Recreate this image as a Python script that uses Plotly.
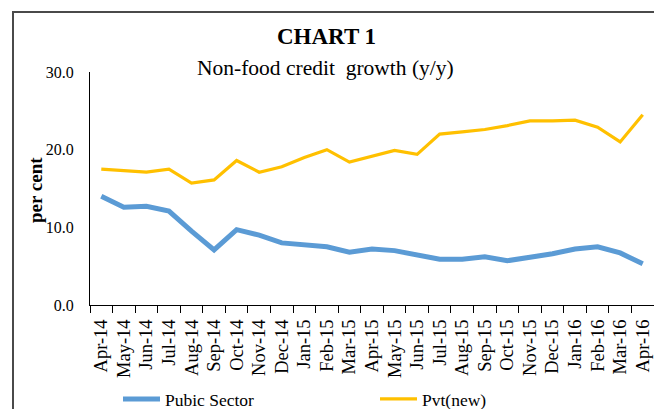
import plotly.graph_objects as go

# Monthly categories, Apr-14 .. Apr-16
months = ["Apr-14", "May-14", "Jun-14", "Jul-14", "Aug-14", "Sep-14", "Oct-14",
          "Nov-14", "Dec-14", "Jan-15", "Feb-15", "Mar-15", "Apr-15", "May-15",
          "Jun-15", "Jul-15", "Aug-15", "Sep-15", "Oct-15", "Nov-15", "Dec-15",
          "Jan-16", "Feb-16", "Mar-16", "Apr-16"]

# Non-food credit growth, per cent (y/y)
public_sector = [14.0, 12.6, 12.7, 12.1, 9.5, 7.1, 9.7, 9.0, 8.0, 7.8, 7.5, 6.8,
                 7.2, 7.0, 6.4, 5.9, 5.9, 6.2, 5.7, 6.1, 6.6, 7.2, 7.5, 6.7, 5.3]
pvt_new = [17.5, 17.3, 17.1, 17.5, 15.7, 16.1, 18.6, 17.1, 17.8, 19.0, 20.0, 18.4,
           19.1, 19.9, 19.4, 22.0, 22.3, 22.6, 23.1, 23.7, 23.7, 23.8, 22.9, 21.0, 24.5]

y_ticks = [0, 10, 20, 30]

SERIF = "Liberation Serif"
W, H = 654, 409
ML, MR, MT, MB = 90, 0, 72, 104
PW, PH = W - ML - MR, H - MT - MB


def px_x(x):
    return (x - ML) / PW


def px_y(y):
    return (H - MB - y) / PH


fig = go.Figure()
fig.add_trace(go.Scatter(x=months, y=public_sector, mode="lines", name="Pubic Sector",
                         line=dict(color="#5B9BD5", width=5)))
fig.add_trace(go.Scatter(x=months, y=pvt_new, mode="lines", name="Pvt(new)",
                         line=dict(color="#FFC000", width=3.2)))

fig.update_layout(
    width=W, height=H,
    margin=dict(l=ML, r=MR, t=MT, b=MB, pad=0, autoexpand=False),
    paper_bgcolor="white", plot_bgcolor="white",
    font=dict(family=SERIF, color="black"),
    showlegend=True,
    legend=dict(orientation="h", x=px_x(118), y=px_y(399), xanchor="left", yanchor="middle",
                font=dict(size=17.5, family=SERIF, color="black"),
                entrywidth=205, entrywidthmode="pixels",
                bgcolor="rgba(0,0,0,0)", itemwidth=37, tracegroupgap=0),
    xaxis=dict(type="category", range=[-0.5, len(months) - 0.5], automargin=False,
               showline=True, linecolor="black", linewidth=1,
               ticks="outside", tickson="boundaries", ticklen=7, tickcolor="black",
               tickangle=-90, ticklabelstandoff=6,
               tickfont=dict(size=18.5, family=SERIF),
               showgrid=False, zeroline=False),
    yaxis=dict(range=[0, 30], tickvals=y_ticks, tickformat=".1f", automargin=False,
               showline=True, linecolor="black", linewidth=1,
               ticks="", ticklabelstandoff=12, tickfont=dict(size=16, family=SERIF),
               showgrid=False, zeroline=False),
    shapes=[dict(type="rect", xref="paper", yref="paper",
                 x0=px_x(13), x1=px_x(700), y0=px_y(460), y1=px_y(12),
                 line=dict(color="#4a4a4a", width=2), layer="below")],
    annotations=[
        dict(text="<b>CHART 1</b>", xref="paper", yref="paper",
             x=px_x(326), y=px_y(36), xanchor="center", yanchor="middle",
             showarrow=False, font=dict(size=23, family=SERIF)),
        dict(text="Non-food credit  growth (y/y)", xref="paper", yref="paper",
             x=px_x(325), y=px_y(68), xanchor="center", yanchor="middle",
             showarrow=False, font=dict(size=21.5, family=SERIF)),
        dict(text="<b>per cent</b>", xref="paper", yref="paper",
             x=px_x(35), y=px_y(190), xanchor="center", yanchor="middle", textangle=-90,
             showarrow=False, font=dict(size=19, family=SERIF)),
    ],
)

fig.write_html("out.html")
